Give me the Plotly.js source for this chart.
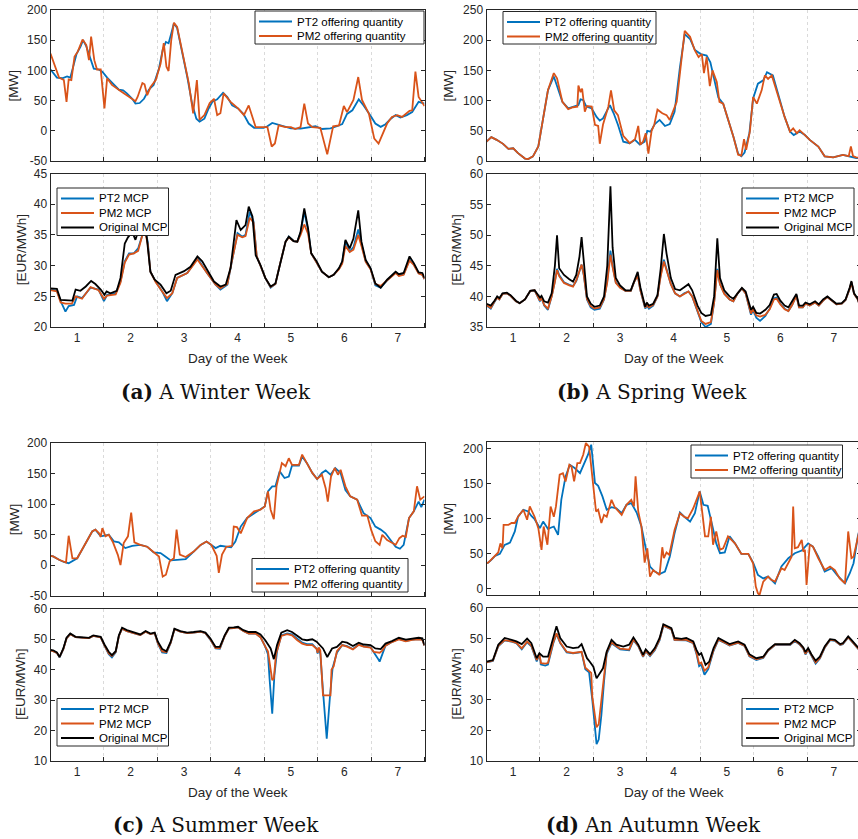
<!DOCTYPE html>
<html>
<head>
<meta charset="utf-8">
<script src="https://cdn.plot.ly/plotly-3.0.1.min.js"></script>
<style>
  html, body { margin: 0; padding: 0; overflow: hidden; background: #fff; }
  #chart { width: 862px; height: 839px; }
</style>
</head>
<body>
<div id="chart"></div>
<script>
// ---------- data: [day, value] pairs read per series ----------
const dayTicks = [1, 2, 3, 4, 5, 6, 7];
const dayLabels = ['1', '2', '3', '4', '5', '6', '7'];

// Winter week – offering quantity [MW]
const winterQtyPT2 = [[0.5,101.5],[0.62,88],[0.72,87],[0.81,90],[0.87,88],[0.94,109],[0.99,128],[1.06,139],[1.11,150],[1.17,140],[1.24,120],[1.31,103],[1.40,101.5],[1.47,98],[1.56,88],[1.69,76],[1.78,68],[1.86,67],[1.93,62],[2.03,53],[2.09,45],[2.17,46],[2.25,53],[2.34,68],[2.43,76],[2.53,103],[2.60,134],[2.66,147],[2.71,145],[2.76,161],[2.81,178],[2.87,170],[2.96,134],[3.06,89],[3.15,45],[3.23,20],[3.29,15],[3.38,20],[3.46,37],[3.53,48],[3.62,52],[3.73,63],[3.81,56],[3.90,42],[4.01,37],[4.11,28],[4.21,12],[4.31,5],[4.49,5],[4.56,7.5],[4.65,13],[4.74,11],[4.84,7.5],[5.0,4],[5.18,3.5],[5.30,5],[5.46,7.5],[5.58,3],[5.74,4],[5.86,7.5],[5.96,11],[6.05,28],[6.15,34],[6.27,52],[6.36,42],[6.49,25],[6.58,12],[6.68,6.5],[6.77,11],[6.87,20],[6.96,26],[7.05,22],[7.17,26],[7.27,31],[7.39,48],[7.5,45]];
const winterQtyPM2 = [[0.5,128],[0.59,106],[0.66,88],[0.75,84],[0.80,48],[0.84,85],[0.89,84],[0.95,123],[1.01,131],[1.10,151],[1.17,142],[1.22,117],[1.26,156],[1.32,117],[1.37,101.5],[1.44,101.5],[1.51,37],[1.56,87],[1.65,76],[1.81,66],[1.93,59],[2.05,51],[2.09,49],[2.13,56],[2.22,79],[2.26,77],[2.31,59],[2.37,72],[2.47,84],[2.56,111],[2.62,145],[2.67,106],[2.71,99],[2.76,150],[2.81,179],[2.87,172],[2.96,134],[3.09,78],[3.17,29],[3.24,84],[3.29,18],[3.38,26],[3.48,46],[3.56,53],[3.62,26],[3.68,29],[3.74,62],[3.87,48],[4.01,37],[4.12,26],[4.21,42],[4.27,26],[4.34,6],[4.56,6],[4.64,-26],[4.70,-21],[4.77,9],[4.90,6],[5.0,6],[5.08,3],[5.18,6],[5.25,45],[5.32,12],[5.40,6],[5.55,5],[5.68,-39],[5.74,-16],[5.79,7.5],[5.90,9],[5.99,41],[6.05,31],[6.17,51],[6.26,89],[6.33,51],[6.46,28],[6.56,-13],[6.64,-21],[6.72,-5],[6.80,12],[6.89,23],[6.99,26],[7.08,23],[7.22,33],[7.27,34],[7.33,98],[7.39,56],[7.46,45],[7.5,41]];

// Winter week – market clearing price [EUR/MWh]
const winterMcpPT2 = [[0.5,26.1],[0.62,25.9],[0.69,24.2],[0.78,22.5],[0.84,23.4],[0.94,23.6],[1.0,25],[1.09,24.7],[1.25,26.4],[1.40,26.1],[1.50,24.2],[1.56,25.25],[1.72,25.5],[1.81,27.4],[1.89,30.7],[1.97,32],[2.06,32],[2.14,32.8],[2.22,35],[2.27,35.8],[2.32,33.9],[2.37,29],[2.47,27.4],[2.59,25.8],[2.68,24.2],[2.78,25.5],[2.87,28],[3.06,28.8],[3.25,31.2],[3.43,28.8],[3.59,26.9],[3.68,26.1],[3.81,26.9],[3.90,31.2],[4.0,35.3],[4.09,34.7],[4.15,35],[4.23,38.8],[4.30,37.2],[4.36,31.5],[4.43,30],[4.52,28],[4.62,26.4],[4.71,27],[4.80,30.4],[4.90,33.9],[4.96,34.7],[5.05,34],[5.12,33.9],[5.18,35.3],[5.25,38.8],[5.32,35.8],[5.38,32],[5.48,30.6],[5.58,29],[5.71,28.1],[5.80,28.5],[5.90,29.5],[5.96,30.5],[6.02,34],[6.10,32.3],[6.17,33],[6.26,35.9],[6.32,33.5],[6.40,30.7],[6.49,29.5],[6.58,26.8],[6.68,26.4],[6.80,27.6],[6.96,28.9],[7.02,28.4],[7.11,28.6],[7.22,31],[7.30,30.2],[7.39,28.8],[7.46,28.5],[7.5,27.8]];
const winterMcpPM2 = [[0.5,26],[0.62,25.8],[0.69,24],[0.78,23.8],[0.9,23.8],[0.97,25],[1.09,24.6],[1.25,26.5],[1.40,26],[1.50,24.6],[1.56,25.1],[1.72,25.3],[1.81,27.2],[1.89,30.5],[1.97,31.8],[2.06,32],[2.14,32.4],[2.22,35],[2.27,35.5],[2.32,33.5],[2.37,29],[2.47,27.3],[2.59,25.8],[2.68,24.7],[2.78,25.5],[2.87,28],[3.06,28.8],[3.25,31],[3.43,28.8],[3.59,26.9],[3.68,26.3],[3.81,27],[3.90,31],[4.0,35],[4.09,34.6],[4.15,34.8],[4.23,37.8],[4.30,37],[4.36,31.5],[4.43,30],[4.52,28],[4.62,26.5],[4.71,27],[4.80,30.4],[4.90,33.9],[4.96,34.6],[5.05,34],[5.12,33.9],[5.18,35],[5.25,36.7],[5.32,35.2],[5.38,32],[5.48,30.6],[5.58,29],[5.71,28.1],[5.80,28.5],[5.90,29.4],[5.96,30.3],[6.02,33.2],[6.10,32.2],[6.17,32.6],[6.26,35],[6.32,33.2],[6.40,30.6],[6.49,29.4],[6.58,27],[6.68,26.7],[6.80,27.6],[6.96,28.8],[7.02,28.3],[7.11,28.5],[7.22,30.8],[7.30,30.1],[7.39,28.7],[7.46,28.5],[7.5,27.8]];
const winterMcpOrig = [[0.5,26.3],[0.62,26.2],[0.69,24.4],[0.81,24.3],[0.91,24.3],[0.97,26.1],[1.06,25.9],[1.16,26.6],[1.26,27.5],[1.34,27],[1.44,26.1],[1.51,25.25],[1.55,25.8],[1.62,25.5],[1.74,25.9],[1.81,28],[1.89,33.6],[1.95,34.6],[2.03,35.5],[2.09,34.2],[2.16,36.1],[2.22,37.7],[2.30,34.7],[2.37,29],[2.45,27.7],[2.56,26.9],[2.67,25.5],[2.75,25.9],[2.84,28.5],[3.0,29.1],[3.12,29.8],[3.25,31.5],[3.34,30.7],[3.46,28.8],[3.56,27.4],[3.68,26.6],[3.78,26.9],[3.87,29.6],[3.93,33.9],[3.98,37.4],[4.06,35.8],[4.15,36.6],[4.21,39.6],[4.28,38],[4.34,31.7],[4.43,30.1],[4.52,28],[4.62,26.6],[4.71,27.1],[4.80,30.4],[4.90,33.9],[4.96,34.7],[5.05,34],[5.12,33.9],[5.18,35.5],[5.25,39.3],[5.32,36.1],[5.38,32],[5.48,30.7],[5.58,29],[5.71,28.1],[5.80,28.5],[5.90,29.6],[5.96,30.7],[6.02,34.2],[6.10,32.8],[6.17,34.4],[6.26,39],[6.32,33.9],[6.40,30.9],[6.49,29.6],[6.58,27.1],[6.68,26.4],[6.80,27.7],[6.96,29],[7.02,28.6],[7.11,28.8],[7.22,31.5],[7.30,30.4],[7.39,28.9],[7.46,28.8],[7.5,28]];

// Spring week – offering quantity [MW]
const springQtyPT2 = [[0.5,32],[0.59,39.4],[0.69,35],[0.81,28.4],[0.91,20],[1.0,21],[1.09,13],[1.22,4],[1.28,3.3],[1.37,7.7],[1.47,24],[1.56,68],[1.65,117],[1.76,140],[1.84,120],[1.92,98],[2.03,87],[2.12,90],[2.22,92.5],[2.26,102],[2.31,101],[2.37,90],[2.47,87],[2.56,73],[2.62,67],[2.68,70.5],[2.75,81.5],[2.81,92.5],[2.88,79],[2.96,60],[3.06,32],[3.18,29.5],[3.28,35],[3.37,27],[3.46,32],[3.51,50],[3.57,48.7],[3.65,61],[3.74,68],[3.84,58],[3.93,61],[4.02,81.5],[4.12,155],[4.21,210],[4.31,202],[4.40,184],[4.51,177],[4.62,174.5],[4.69,163.5],[4.77,133.5],[4.84,105],[4.93,95],[5.02,70.5],[5.12,40.5],[5.21,12],[5.27,7.7],[5.33,14],[5.42,46],[5.49,103.4],[5.58,128],[5.68,133.5],[5.75,147],[5.86,141.7],[5.98,106],[6.08,73],[6.18,48.7],[6.25,43],[6.36,48.7],[6.46,43],[6.55,35],[6.71,24],[6.83,7.7],[6.99,6],[7.17,10],[7.30,7.7],[7.42,5],[7.5,5]];
const springQtyPM2 = [[0.5,32],[0.59,39.4],[0.69,35],[0.81,28.4],[0.91,20],[1.0,21],[1.09,13],[1.22,4],[1.28,3.3],[1.37,7.7],[1.47,24],[1.56,68],[1.65,117],[1.76,145.5],[1.82,137],[1.92,98],[2.03,86],[2.12,89],[2.20,90],[2.22,125],[2.26,114],[2.29,120],[2.34,81.5],[2.38,91],[2.47,90],[2.53,60],[2.59,58],[2.62,28.5],[2.68,60],[2.78,90],[2.83,117],[2.89,84],[2.96,76],[3.06,41.6],[3.18,29.5],[3.28,36],[3.34,58],[3.38,27],[3.43,32],[3.48,46],[3.53,12],[3.59,50],[3.64,60],[3.70,85],[3.79,79],[3.87,76],[3.93,68],[4.06,98],[4.15,166],[4.21,215.5],[4.31,205.7],[4.40,183],[4.47,172],[4.53,177],[4.57,145.5],[4.62,172],[4.68,124],[4.73,150],[4.81,131],[4.86,98],[4.93,95],[5.02,70.5],[5.12,40.5],[5.21,10.4],[5.27,8.8],[5.32,36],[5.36,18.6],[5.43,49],[5.49,106],[5.56,95],[5.65,117],[5.71,141.7],[5.77,136],[5.84,141.7],[5.96,106],[6.08,73],[6.18,48.7],[6.24,54],[6.31,46],[6.36,51],[6.46,43],[6.55,35],[6.71,24],[6.83,7.7],[6.99,6],[7.17,10],[7.28,8],[7.32,24],[7.36,8],[7.42,6],[7.5,5]];

// Spring week – market clearing price [EUR/MWh]
const springMcpPT2 = [[0.5,38.5],[0.58,38],[0.65,39.1],[0.7,39.8],[0.74,39.5],[0.8,40.4],[0.88,40.5],[0.95,40.1],[1.05,39.2],[1.12,38.9],[1.22,39.5],[1.32,40.9],[1.4,41],[1.5,39.2],[1.53,39.8],[1.58,38.5],[1.65,37.8],[1.72,40],[1.78,42.5],[1.82,44.5],[1.86,43.5],[1.95,42.3],[2.05,41.9],[2.12,41.7],[2.18,42.5],[2.24,44.2],[2.28,45.2],[2.32,43.5],[2.38,39.5],[2.45,38.2],[2.52,37.8],[2.62,38],[2.7,39.5],[2.76,42.5],[2.82,47.5],[2.86,45],[2.92,42.3],[3.0,41.5],[3.1,40.9],[3.2,40.9],[3.26,42.3],[3.33,43.5],[3.38,41],[3.47,38],[3.5,38.5],[3.54,38],[3.62,38.5],[3.7,40],[3.76,43.5],[3.82,46],[3.87,44.5],[3.95,42],[4.03,40.5],[4.12,40],[4.2,40.5],[4.28,40.8],[4.35,40],[4.45,37.5],[4.52,35.8],[4.6,35],[4.7,35.5],[4.76,39],[4.82,44.5],[4.87,42],[4.95,40.5],[5.05,39.5],[5.12,39.2],[5.2,40.5],[5.28,41.3],[5.35,40.5],[5.45,37],[5.49,37.8],[5.55,36.5],[5.62,36],[5.72,36.8],[5.8,38],[5.88,39.7],[5.93,39.8],[6.0,38.8],[6.08,38],[6.15,37.6],[6.22,38.6],[6.3,40.2],[6.35,38.2],[6.42,38.2],[6.47,38.8],[6.55,38.5],[6.65,39],[6.72,38.5],[6.8,39.3],[6.88,39.9],[6.95,39.4],[7.05,38.7],[7.15,38.8],[7.22,39.4],[7.3,41.3],[7.33,42.3],[7.38,40.4],[7.45,39.5],[7.5,38.1]];
const springMcpPM2 = [[0.5,38.6],[0.58,38.1],[0.65,39.2],[0.7,39.8],[0.74,39.5],[0.8,40.4],[0.88,40.5],[0.95,40.1],[1.05,39.2],[1.12,38.9],[1.22,39.5],[1.32,40.9],[1.4,41],[1.5,39.3],[1.53,39.8],[1.58,38.6],[1.65,38],[1.72,40],[1.78,42.4],[1.82,44.3],[1.86,43.3],[1.95,42.2],[2.05,41.8],[2.12,41.6],[2.18,42.6],[2.24,44.3],[2.28,45.2],[2.32,43.6],[2.38,39.6],[2.45,38.4],[2.52,38],[2.62,38.2],[2.7,39.6],[2.76,42.3],[2.82,46.8],[2.86,44.8],[2.92,42.2],[3.0,41.4],[3.1,40.9],[3.2,40.9],[3.26,42.3],[3.33,43.4],[3.38,41],[3.47,38.2],[3.5,38.6],[3.54,38.2],[3.62,38.6],[3.7,40],[3.76,43.3],[3.82,45.7],[3.87,44.3],[3.95,42],[4.03,40.5],[4.12,40],[4.2,40.4],[4.28,40.8],[4.35,40],[4.45,37.7],[4.52,36],[4.6,35.5],[4.7,35.8],[4.76,39],[4.82,44.3],[4.87,42],[4.95,40.4],[5.05,39.5],[5.12,39.2],[5.2,40.5],[5.28,41.3],[5.35,40.5],[5.45,37.2],[5.49,37.9],[5.55,36.9],[5.62,36.7],[5.72,37],[5.8,37.9],[5.88,39.5],[5.93,39.6],[6.0,38.7],[6.08,37.9],[6.15,37.6],[6.22,38.6],[6.3,40.1],[6.35,38.2],[6.42,38.2],[6.47,38.8],[6.55,38.5],[6.65,39],[6.72,38.5],[6.8,39.3],[6.88,39.9],[6.95,39.4],[7.05,38.7],[7.15,38.8],[7.22,39.4],[7.3,41.3],[7.33,42.3],[7.38,40.4],[7.45,39.5],[7.5,38.1]];
const springMcpOrig = [[0.5,38.8],[0.58,38.5],[0.65,39.3],[0.7,40],[0.74,39.7],[0.8,40.5],[0.88,40.6],[0.95,40.2],[1.05,39.3],[1.12,38.9],[1.22,39.5],[1.32,40.9],[1.4,41],[1.5,39.8],[1.53,40.1],[1.58,39.2],[1.65,39],[1.72,40.5],[1.78,45],[1.82,50],[1.86,44.6],[1.95,43.5],[2.05,42.8],[2.12,42.4],[2.18,43.5],[2.24,46.5],[2.28,49.7],[2.32,45.5],[2.38,40],[2.45,38.8],[2.52,38.3],[2.62,38.5],[2.7,40],[2.76,45],[2.82,58],[2.86,48],[2.92,43],[3.0,41.8],[3.1,41],[3.2,41],[3.26,42.5],[3.33,44],[3.38,41.5],[3.47,38.3],[3.5,39],[3.54,38.5],[3.62,38.8],[3.7,40.2],[3.76,44.5],[3.82,50.2],[3.87,47],[3.95,43],[4.03,41.2],[4.12,41],[4.2,41.5],[4.28,42],[4.35,41],[4.45,38.5],[4.52,37.3],[4.6,36.8],[4.7,37],[4.76,40],[4.82,49.5],[4.87,43],[4.95,41],[5.05,40],[5.12,39.6],[5.2,40.6],[5.28,41.4],[5.35,40.8],[5.45,37.8],[5.49,38.3],[5.55,37.3],[5.62,37.2],[5.72,37.8],[5.8,38.6],[5.88,40.3],[5.93,40.4],[6.0,39.3],[6.08,38.5],[6.15,38.2],[6.22,39.2],[6.3,40.4],[6.35,38.5],[6.42,38.5],[6.47,39],[6.55,38.7],[6.65,39.2],[6.72,38.7],[6.8,39.5],[6.88,40],[6.95,39.5],[7.05,38.8],[7.15,38.9],[7.22,39.5],[7.3,41.5],[7.33,42.5],[7.38,40.5],[7.45,39.6],[7.5,38.2]];

// Summer week – offering quantity [MW]
const summerQtyPT2 = [[0.5,15],[0.55,14],[0.66,8.5],[0.75,5],[0.84,3],[0.91,6],[1.0,11],[1.11,28],[1.19,41],[1.28,55],[1.34,58],[1.44,47],[1.51,48],[1.59,49.6],[1.69,38.6],[1.78,37],[1.90,27.7],[2.03,31.5],[2.18,33],[2.31,30],[2.43,20.6],[2.56,19.5],[2.65,14],[2.75,7.5],[2.87,8.5],[3.03,9.6],[3.18,22],[3.31,33],[3.42,38.6],[3.51,33],[3.59,27.7],[3.68,31.5],[3.79,30],[3.88,29],[3.96,38.6],[4.06,63],[4.18,77],[4.31,84],[4.43,90.6],[4.51,96],[4.57,120.7],[4.65,129],[4.71,129],[4.79,153.5],[4.88,142.6],[4.96,145],[5.02,163],[5.15,163],[5.21,178],[5.30,167],[5.40,151],[5.49,141],[5.58,151],[5.65,155],[5.74,148],[5.83,159],[5.93,151],[6.02,123],[6.11,112.5],[6.24,107],[6.36,85],[6.49,77],[6.58,63],[6.68,58],[6.77,52],[6.86,41],[6.96,30],[7.04,26.6],[7.11,33],[7.21,77],[7.30,88],[7.39,104],[7.44,95],[7.5,107]];
const summerQtyPM2 = [[0.5,15],[0.55,14],[0.66,8.5],[0.75,5],[0.79,4],[0.84,48],[0.91,11],[1.0,11],[1.11,28],[1.19,41],[1.28,55],[1.34,58],[1.41,52],[1.44,46],[1.47,60.5],[1.53,47],[1.59,49.6],[1.67,37],[1.76,16.7],[1.81,0],[1.87,36],[1.95,47],[2.01,86],[2.07,37],[2.18,33],[2.31,30],[2.43,20.6],[2.53,14],[2.60,-19],[2.66,-16],[2.73,6],[2.81,11],[2.86,58],[2.92,17],[3.03,13],[3.18,22],[3.31,33],[3.42,38.6],[3.51,33],[3.61,15],[3.65,-13],[3.71,17],[3.79,30],[3.90,31.5],[3.93,63],[3.99,62],[4.06,52],[4.18,77],[4.31,88],[4.43,90.6],[4.51,96],[4.57,120.7],[4.62,90.6],[4.68,75],[4.73,129],[4.83,167],[4.90,162],[4.96,175],[5.02,164],[5.15,164],[5.21,181],[5.30,167],[5.40,151],[5.49,141],[5.58,148],[5.65,126],[5.69,104],[5.75,145],[5.82,159],[5.88,148],[5.93,156],[6.02,129],[6.11,112.5],[6.24,107],[6.33,81],[6.43,81],[6.50,58],[6.58,39],[6.66,33],[6.71,49.6],[6.80,41],[6.90,36],[6.96,33],[7.03,44],[7.09,48],[7.15,46],[7.21,77],[7.30,88],[7.36,129],[7.42,107],[7.5,112.5]];

// Summer week – market clearing price [EUR/MWh]
const summerMcpPT2 = [[0.5,46.2],[0.55,46],[0.62,45.4],[0.67,44],[0.74,46.7],[0.80,50.2],[0.87,51.6],[0.97,50.6],[1.12,50.4],[1.22,50.3],[1.30,51],[1.37,50.8],[1.44,50.5],[1.51,47.8],[1.59,45],[1.65,44],[1.72,45.6],[1.78,51],[1.84,53.4],[1.93,52.6],[2.06,51.9],[2.18,51.3],[2.28,52.4],[2.37,51.6],[2.45,51.9],[2.51,48.5],[2.59,45.6],[2.67,45.4],[2.75,48.7],[2.82,53.2],[2.93,52.4],[3.06,51.9],[3.18,52.1],[3.31,52.4],[3.40,51.9],[3.49,49.8],[3.59,46.9],[3.67,46.8],[3.76,51],[3.84,53.5],[3.93,53.6],[4.01,53.8],[4.11,52.6],[4.21,51.8],[4.34,51.8],[4.43,50.6],[4.52,47.5],[4.57,45],[4.60,37],[4.65,25.5],[4.69,38],[4.74,46],[4.82,51.2],[4.93,51.8],[5.02,51.5],[5.12,50],[5.21,48.8],[5.30,48.3],[5.40,48.3],[5.48,46.8],[5.50,45.2],[5.52,47],[5.55,45.2],[5.60,33],[5.67,17.3],[5.73,31],[5.78,40.5],[5.86,45.5],[5.96,48],[6.05,47.7],[6.16,46.7],[6.27,48.2],[6.36,47.6],[6.49,47.3],[6.55,45.8],[6.62,43.8],[6.66,42.6],[6.71,45.2],[6.77,47.8],[6.89,49],[7.02,50],[7.15,49.3],[7.27,49.8],[7.39,50],[7.46,49.8],[7.5,47.8]];
const summerMcpPM2 = [[0.5,46.2],[0.55,46],[0.62,45.4],[0.67,44.1],[0.74,46.7],[0.80,50.2],[0.87,51.6],[0.97,50.6],[1.12,50.4],[1.22,50.3],[1.30,51],[1.37,50.8],[1.44,50.5],[1.51,47.9],[1.59,45.3],[1.65,44.4],[1.72,45.8],[1.78,51],[1.84,53.4],[1.93,52.6],[2.06,51.9],[2.18,51.3],[2.28,52.4],[2.37,51.6],[2.45,51.9],[2.51,48.6],[2.59,45.9],[2.67,45.7],[2.75,48.8],[2.82,53.2],[2.93,52.4],[3.06,51.9],[3.18,52.1],[3.31,52.4],[3.40,51.9],[3.49,49.9],[3.59,47],[3.67,47],[3.76,51],[3.84,53.5],[3.93,53.6],[4.01,53.8],[4.11,52.6],[4.21,51.8],[4.34,51.8],[4.43,50.6],[4.52,47.5],[4.57,46],[4.62,40],[4.65,36.5],[4.68,37],[4.72,45],[4.82,51],[4.93,51.6],[5.02,51.2],[5.12,49.6],[5.21,48.5],[5.30,48],[5.40,48],[5.48,46.8],[5.50,45.5],[5.52,47.2],[5.55,46.3],[5.58,38],[5.60,31.5],[5.74,31.5],[5.76,40],[5.80,41],[5.86,46],[5.96,48],[6.05,47.5],[6.16,46.6],[6.27,48.1],[6.36,47.5],[6.49,47.2],[6.55,45.8],[6.62,45.6],[6.66,45.5],[6.71,46.2],[6.77,47.8],[6.89,49],[7.02,49.9],[7.15,49.2],[7.27,49.7],[7.39,49.9],[7.46,49.7],[7.5,47.8]];
const summerMcpOrig = [[0.5,46.4],[0.55,46.3],[0.62,45.6],[0.67,44.1],[0.74,46.9],[0.80,50.4],[0.87,51.8],[0.97,50.7],[1.12,50.5],[1.22,50.4],[1.30,51.2],[1.37,51],[1.44,50.7],[1.51,48.2],[1.59,45.8],[1.65,44.7],[1.72,46],[1.78,51.2],[1.84,53.7],[1.93,52.9],[2.06,52.1],[2.18,51.5],[2.28,52.6],[2.37,51.8],[2.45,52.1],[2.51,49.1],[2.59,46.7],[2.67,46],[2.75,49.1],[2.82,53.4],[2.93,52.6],[3.06,52.1],[3.18,52.3],[3.31,52.6],[3.40,52.1],[3.49,50.2],[3.59,47.4],[3.67,47.4],[3.76,51.2],[3.84,53.7],[3.93,53.8],[4.01,54],[4.11,52.9],[4.21,52.3],[4.34,52.3],[4.43,51.5],[4.52,49.6],[4.62,46.9],[4.68,43.4],[4.74,48],[4.82,52.1],[4.93,52.9],[5.02,52.3],[5.12,51],[5.21,49.9],[5.30,49.6],[5.40,49.9],[5.48,49.1],[5.54,48],[5.60,46.9],[5.68,44.1],[5.77,46.9],[5.86,47.4],[5.96,49.1],[6.05,48.8],[6.16,47.7],[6.27,48.8],[6.36,48.2],[6.49,48],[6.58,46.9],[6.68,46.7],[6.77,48.5],[6.89,49.3],[7.02,50.4],[7.15,49.8],[7.27,50.2],[7.39,50.4],[7.46,50.2],[7.5,48]];

// Autumn week – offering quantity [MW]
const autumnQtyPT2 = [[0.5,37],[0.53,37.6],[0.59,41.4],[0.66,47],[0.75,50],[0.84,62.9],[0.94,66],[1.03,82],[1.09,103],[1.19,113],[1.28,110.5],[1.34,104],[1.40,99.5],[1.50,86.7],[1.56,96],[1.65,85.7],[1.76,89],[1.84,77],[1.90,127],[1.98,160.5],[2.06,177],[2.15,172.4],[2.25,165],[2.34,182],[2.40,191.4],[2.46,205.7],[2.53,151],[2.59,147],[2.67,132],[2.75,113],[2.84,116.7],[2.93,115],[3.03,108],[3.12,120],[3.21,122.4],[3.31,109],[3.40,89],[3.48,58],[3.56,32],[3.65,24.8],[3.74,21.4],[3.84,24.8],[3.93,46],[4.02,79.5],[4.12,109],[4.21,102.4],[4.31,96],[4.40,108],[4.49,139],[4.56,120],[4.64,118.6],[4.73,89],[4.80,65],[4.87,51],[4.96,52],[5.05,75],[5.15,65],[5.27,50],[5.40,50],[5.49,37.6],[5.58,20],[5.68,15],[5.77,17.6],[5.90,8],[6.02,32],[6.15,43.8],[6.27,51],[6.40,54.8],[6.52,65],[6.61,60.5],[6.71,46],[6.83,24.8],[6.96,29.5],[7.06,20],[7.21,8],[7.30,22.4],[7.37,36.7],[7.45,75],[7.5,90]];
const autumnQtyPM2 = [[0.5,37],[0.53,37.6],[0.57,40.5],[0.66,47],[0.72,52],[0.76,65],[0.80,58],[0.82,91.4],[0.91,91.4],[0.97,94],[1.03,94],[1.09,103],[1.19,113],[1.26,98.6],[1.31,117.6],[1.40,103],[1.47,86.7],[1.53,55.7],[1.57,89],[1.64,63],[1.70,117.6],[1.76,103],[1.80,117.6],[1.87,163],[1.93,165],[1.98,153.3],[2.05,177],[2.09,174.8],[2.14,153.3],[2.20,179.5],[2.25,179.5],[2.31,191.4],[2.36,208],[2.42,203],[2.47,167.6],[2.50,150],[2.55,110.5],[2.59,113],[2.65,94],[2.70,105.7],[2.75,103],[2.84,127],[2.90,116.7],[3.03,105.7],[3.12,120],[3.21,127],[3.26,117.6],[3.29,160.5],[3.34,110.5],[3.40,89],[3.46,37.6],[3.51,58],[3.56,17.6],[3.62,27],[3.69,22.4],[3.74,20],[3.79,59.5],[3.82,43.8],[3.87,52],[3.92,48.6],[4.02,84],[4.12,108],[4.21,102.4],[4.27,101],[4.37,115],[4.49,139],[4.54,108],[4.59,75],[4.65,75],[4.70,103],[4.74,63],[4.80,82],[4.87,56],[4.93,58],[5.02,75],[5.15,65],[5.27,50],[5.40,50],[5.49,36.7],[5.54,3.3],[5.58,-6],[5.61,-8.6],[5.68,10.5],[5.77,17.6],[5.83,13],[5.90,10.5],[6.02,29.5],[6.08,27],[6.21,46],[6.24,117.6],[6.27,58],[6.33,59.5],[6.40,70],[6.43,53.3],[6.46,55.7],[6.49,5.7],[6.55,63],[6.61,60.5],[6.71,43.8],[6.83,27],[6.93,32],[7.02,27],[7.11,15],[7.21,8],[7.27,82],[7.33,43.8],[7.37,46],[7.45,75],[7.5,90]];

// Autumn week – market clearing price [EUR/MWh]
const autumnMcpPT2 = [[0.5,42.2],[0.62,42.7],[0.72,47.5],[0.84,49.4],[0.97,49],[1.06,48.5],[1.16,46.5],[1.26,48.8],[1.34,47.5],[1.44,42.5],[1.49,44.8],[1.52,41.5],[1.60,41.2],[1.65,41.5],[1.75,48.5],[1.81,51.5],[1.88,48.5],[2.0,45.5],[2.12,45.2],[2.22,45.5],[2.28,45.6],[2.35,40],[2.42,39],[2.48,30],[2.52,22],[2.56,15.5],[2.60,17],[2.65,25],[2.70,36],[2.75,45],[2.84,48.5],[3.0,46.5],[3.17,46.2],[3.25,49.5],[3.34,47.5],[3.43,44],[3.48,45.8],[3.56,44.3],[3.65,46.2],[3.74,49.5],[3.81,54.2],[3.90,53.5],[3.96,53],[4.02,49.5],[4.15,49.5],[4.24,49.4],[4.37,48.5],[4.43,45],[4.48,41],[4.52,41.5],[4.58,38.2],[4.65,40],[4.75,46],[4.84,49.6],[4.96,48.6],[5.05,47.7],[5.21,48.6],[5.33,47.6],[5.42,44.2],[5.55,43],[5.68,43.7],[5.77,46],[5.90,47.9],[6.05,47.9],[6.18,47.9],[6.27,49.2],[6.36,48.1],[6.43,46.6],[6.47,44.8],[6.52,46.4],[6.58,44.3],[6.66,41.8],[6.74,43.5],[6.83,47],[6.93,49.5],[7.02,49.3],[7.12,47.9],[7.17,48.2],[7.27,50.4],[7.33,49.3],[7.45,46.8],[7.5,45.8]];
const autumnMcpPM2 = [[0.5,42.2],[0.62,42.8],[0.72,47.6],[0.84,49.5],[0.97,49.1],[1.06,48.6],[1.16,46.8],[1.26,49],[1.34,47.7],[1.44,43],[1.49,45],[1.52,42],[1.60,41.8],[1.65,42],[1.75,48.8],[1.81,51.7],[1.88,48.7],[2.0,45.7],[2.12,45.3],[2.22,45.6],[2.28,45.7],[2.35,40.5],[2.42,39.2],[2.46,38.8],[2.48,31],[2.52,25],[2.56,21],[2.60,22],[2.65,30],[2.70,38],[2.75,45.5],[2.84,48.7],[3.0,46.7],[3.17,46.4],[3.25,49.7],[3.34,47.7],[3.43,44.2],[3.48,46],[3.56,44.5],[3.65,46.4],[3.74,49.7],[3.81,54.3],[3.90,53.6],[3.96,53.1],[4.02,49.6],[4.15,49.6],[4.24,49.6],[4.37,48.6],[4.43,45.4],[4.48,41.8],[4.52,42.2],[4.58,39.5],[4.65,40.6],[4.75,46.3],[4.84,49.7],[4.96,48.7],[5.05,47.8],[5.21,48.7],[5.33,47.7],[5.42,44.4],[5.55,43.2],[5.68,43.8],[5.77,46.1],[5.90,48],[6.05,48],[6.18,48],[6.27,49.3],[6.36,48.2],[6.43,46.8],[6.47,45],[6.52,46.5],[6.58,44.5],[6.66,42.2],[6.74,43.7],[6.83,47.1],[6.93,49.6],[7.02,49.4],[7.12,48],[7.17,48.3],[7.27,50.5],[7.33,49.4],[7.45,46.9],[7.5,45.9]];
const autumnMcpOrig = [[0.5,42.5],[0.62,43],[0.72,48],[0.84,50.2],[0.97,49.6],[1.06,49.1],[1.16,48.2],[1.26,50],[1.34,48.5],[1.44,43.6],[1.49,45.2],[1.56,44.1],[1.65,44.1],[1.75,50.7],[1.81,54],[1.88,50.2],[2.0,47.4],[2.12,46.9],[2.22,47.1],[2.28,48.2],[2.33,45.8],[2.38,43.6],[2.43,42.5],[2.50,40.8],[2.56,37],[2.62,38.7],[2.68,40.3],[2.75,45.8],[2.84,49.6],[2.93,48],[3.06,47.4],[3.17,48],[3.25,50.4],[3.34,48],[3.43,44.7],[3.48,46.5],[3.56,44.9],[3.65,46.9],[3.74,50.2],[3.81,54.7],[3.90,54],[3.96,53.4],[4.02,50.2],[4.15,49.9],[4.24,50.2],[4.37,49.1],[4.43,46.3],[4.48,44.7],[4.52,45.2],[4.60,41.4],[4.67,42.5],[4.75,46.9],[4.84,50.2],[4.96,49.1],[5.05,48.2],[5.21,49.1],[5.33,48],[5.42,44.9],[5.55,43.6],[5.68,44.1],[5.77,46.3],[5.90,48.2],[6.05,48.2],[6.18,48.2],[6.27,49.6],[6.36,48.5],[6.43,47.1],[6.47,45.6],[6.52,46.9],[6.58,44.9],[6.66,42.8],[6.74,44.1],[6.83,47.4],[6.93,49.8],[7.02,49.6],[7.12,48.2],[7.17,48.5],[7.27,50.7],[7.33,49.6],[7.45,47.1],[7.5,46.2]];

// ---------- styling ----------
const W = 862, H = 839;
const px = v => v / W;          // horizontal pixel -> paper fraction
const py = v => 1 - v / H;      // vertical pixel (from top) -> paper fraction

const BLUE = '#0072BD', ORANGE = '#D95319', BLACK = '#000000';
const AXIS = '#262626';
const SANS = '"Liberation Sans", Arial, Helvetica, sans-serif';
const SERIF = '"DejaVu Serif", "Liberation Serif", serif';
const LINE_W = 1.8;

const qtyNames = ['PT2 offering quantity', 'PM2 offering quantity'];
const mcpNames = ['PT2 MCP', 'PM2 MCP', 'Original MCP'];

const panels = [
  { tag: 'a', caption: 'A Winter Week', cx: 216, cy: 392,
    cols: [50.5, 424.5], top: [10, 161], bot: [173.5, 327],
    qtyRange: [-50, 200], qtyTicks: [-50, 0, 50, 100, 150, 200],
    mcpRange: [20, 45], mcpTicks: [20, 25, 30, 35, 40, 45],
    qty: [winterQtyPT2, winterQtyPM2], mcp: [winterMcpPT2, winterMcpPM2, winterMcpOrig],
    qtyLegend: [255, 11, 424, 44], mcpLegend: [57, 188, 168.5, 235.5],
    qtyLabelX: 13, mcpLabelX: 21 },
  { tag: 'b', caption: 'A Spring Week', cx: 652, cy: 392,
    cols: [486.5, 860.5], top: [10, 161], bot: [174, 327],
    qtyRange: [0, 250], qtyTicks: [0, 50, 100, 150, 200, 250],
    mcpRange: [35, 60], mcpTicks: [35, 40, 45, 50, 55, 60],
    qty: [springQtyPT2, springQtyPM2], mcp: [springMcpPT2, springMcpPM2, springMcpOrig],
    qtyLegend: [503, 11.5, 656, 44], mcpLegend: [742, 188, 854, 235.5],
    qtyLabelX: 448, mcpLabelX: 456 },
  { tag: 'c', caption: 'A Summer Week', cx: 216, cy: 825,
    cols: [50.5, 424.5], top: [443, 595.5], bot: [608.5, 761],
    qtyRange: [-50, 200], qtyTicks: [-50, 0, 50, 100, 150, 200],
    mcpRange: [10, 60], mcpTicks: [10, 20, 30, 40, 50, 60],
    qty: [summerQtyPT2, summerQtyPM2], mcp: [summerMcpPT2, summerMcpPM2, summerMcpOrig],
    qtyLegend: [252, 558.5, 408, 592], mcpLegend: [57, 698.5, 168.5, 746],
    qtyLabelX: 14, mcpLabelX: 21 },
  { tag: 'd', caption: 'An Autumn Week', cx: 653, cy: 825,
    cols: [486.5, 860.5], top: [442, 595], bot: [608, 761],
    qtyRange: [-8.6, 209.5], qtyTicks: [0, 50, 100, 150, 200],
    mcpRange: [10, 60], mcpTicks: [10, 20, 30, 40, 50, 60],
    qty: [autumnQtyPT2, autumnQtyPM2], mcp: [autumnMcpPT2, autumnMcpPM2, autumnMcpOrig],
    qtyLegend: [691, 445, 842.5, 478], mcpLegend: [742, 698.5, 854, 746],
    qtyLabelX: 448, mcpLabelX: 456 }
];

const tickFont = { family: SANS, size: 12, color: AXIS };
const labelFont = { family: SANS, size: 13.5, color: AXIS };
const legendFont = { family: SANS, size: 11.5, color: '#000' };

const traces = [];
const layout = {
  width: W, height: H,
  margin: { l: 0, r: 0, t: 0, b: 0 },
  paper_bgcolor: '#ffffff', plot_bgcolor: '#ffffff',
  showlegend: false,
  shapes: [], annotations: []
};

function xAxis(domain, yId, labels) {
  return {
    domain: domain, anchor: yId, range: [0.5, 7.5],
    tickvals: dayTicks, ticktext: dayLabels, ticks: '',
    showticklabels: labels, tickfont: tickFont,
    showgrid: false, zeroline: false,
    showline: true, linecolor: AXIS, linewidth: 1, mirror: true,
    minor: { tick0: 0.5, dtick: 1, ticks: 'inside', ticklen: 4, tickcolor: AXIS,
             showgrid: true, gridcolor: '#dadada', griddash: 'dot', gridwidth: 1 },
    fixedrange: true
  };
}
function yAxis(domain, xId, range, ticks) {
  return {
    domain: domain, anchor: xId, range: range,
    tickvals: ticks, ticktext: ticks.map(String),
    ticks: 'inside', ticklen: 4, tickwidth: 1, tickcolor: AXIS,
    tickfont: tickFont, showgrid: false, zeroline: false,
    showline: true, linecolor: AXIS, linewidth: 1, mirror: 'ticks',
    fixedrange: true
  };
}

function addLegend(box, names, colors) {
  const [x0, y0, x1, y1] = box;
  layout.shapes.push({ type: 'rect', xref: 'paper', yref: 'paper', layer: 'above',
    x0: px(x0), x1: px(x1), y0: py(y0), y1: py(y1),
    fillcolor: '#ffffff', line: { color: AXIS, width: 1 } });
  names.forEach((name, i) => {
    const yc = y0 + 10.5 + i * 14.5;
    layout.shapes.push({ type: 'line', xref: 'paper', yref: 'paper', layer: 'above',
      x0: px(x0 + 4), x1: px(x0 + 37), y0: py(yc), y1: py(yc),
      line: { color: colors[i], width: LINE_W } });
    layout.annotations.push({ xref: 'paper', yref: 'paper', x: px(x0 + 40), y: py(yc),
      xanchor: 'left', yanchor: 'middle', showarrow: false, text: name, font: legendFont });
  });
}

function addYLabel(x, yTop, yBot, text) {
  layout.annotations.push({ xref: 'paper', yref: 'paper', x: px(x), y: py((yTop + yBot) / 2),
    xanchor: 'center', yanchor: 'middle', textangle: -90, showarrow: false,
    text: text, font: labelFont });
}

panels.forEach((p, i) => {
  const nTop = 2 * i + 1, nBot = 2 * i + 2;
  const id = n => (n === 1 ? '' : String(n));
  const xd = [px(p.cols[0]), px(p.cols[1])];

  layout['xaxis' + id(nTop)] = xAxis(xd, 'y' + id(nTop), false);
  layout['yaxis' + id(nTop)] = yAxis([py(p.top[1]), py(p.top[0])], 'x' + id(nTop), p.qtyRange, p.qtyTicks);
  layout['xaxis' + id(nBot)] = xAxis(xd, 'y' + id(nBot), true);
  layout['yaxis' + id(nBot)] = yAxis([py(p.bot[1]), py(p.bot[0])], 'x' + id(nBot), p.mcpRange, p.mcpTicks);

  const qtyColors = [BLUE, ORANGE];
  p.qty.forEach((s, k) => traces.push({
    type: 'scatter', mode: 'lines', name: qtyNames[k],
    x: s.map(d => d[0]), y: s.map(d => d[1]),
    xaxis: 'x' + id(nTop), yaxis: 'y' + id(nTop),
    line: { color: qtyColors[k], width: LINE_W }, hoverinfo: 'skip'
  }));
  const mcpColors = [BLUE, ORANGE, BLACK];
  p.mcp.forEach((s, k) => traces.push({
    type: 'scatter', mode: 'lines', name: mcpNames[k],
    x: s.map(d => d[0]), y: s.map(d => d[1]),
    xaxis: 'x' + id(nBot), yaxis: 'y' + id(nBot),
    line: { color: mcpColors[k], width: LINE_W }, hoverinfo: 'skip'
  }));

  addLegend(p.qtyLegend, qtyNames, qtyColors);
  addLegend(p.mcpLegend, mcpNames, mcpColors);

  addYLabel(p.qtyLabelX, p.top[0], p.top[1], '[MW]');
  addYLabel(p.mcpLabelX, p.bot[0], p.bot[1], '[EUR/MWh]');

  layout.annotations.push({ xref: 'paper', yref: 'paper',
    x: px((p.cols[0] + p.cols[1]) / 2), y: py(p.bot[1] + 31),
    xanchor: 'center', yanchor: 'middle', showarrow: false,
    text: 'Day of the Week', font: labelFont });

  layout.annotations.push({ xref: 'paper', yref: 'paper', x: px(p.cx), y: py(p.cy),
    xanchor: 'center', yanchor: 'middle', showarrow: false,
    text: '<b>(' + p.tag + ')</b> ' + p.caption,
    font: { family: SERIF, size: 20, color: '#111' } });
});

Plotly.newPlot('chart', traces, layout, { displayModeBar: false, staticPlot: true });
</script>
</body>
</html>
